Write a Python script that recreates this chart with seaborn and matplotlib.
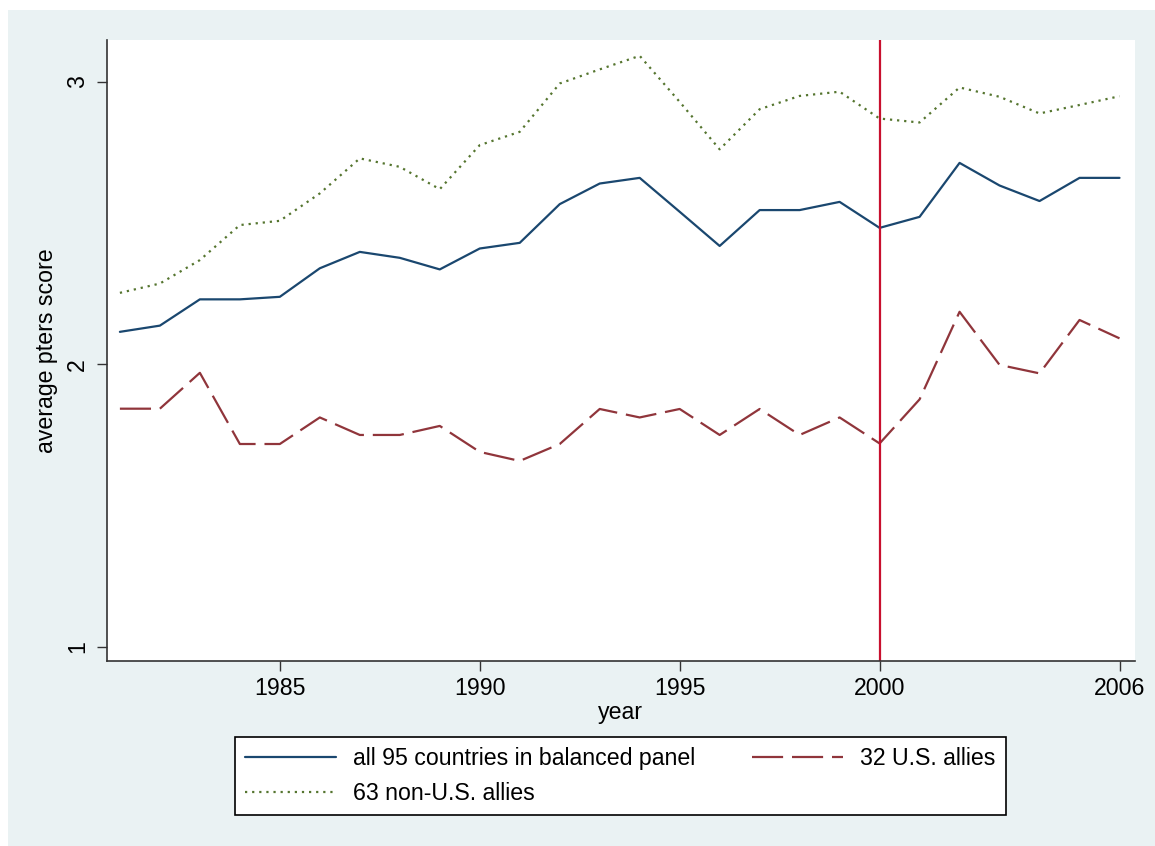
import matplotlib
matplotlib.use("Agg")
import matplotlib.pyplot as plt
import matplotlib.patches as mpatches
import seaborn as sns

years = list(range(1981, 2007))

# average pters score
all_95 = [2.115, 2.137, 2.230, 2.230, 2.239, 2.340, 2.398, 2.377, 2.336, 2.410,
          2.430, 2.567, 2.640, 2.660, 2.540, 2.419, 2.546, 2.546, 2.575, 2.483,
          2.522, 2.713, 2.633, 2.578, 2.660, 2.660]
us_allies = [1.843, 1.843, 1.970, 1.718, 1.718, 1.812, 1.750, 1.750, 1.782, 1.690,
             1.658, 1.718, 1.842, 1.812, 1.842, 1.750, 1.842, 1.750, 1.812, 1.720,
             1.876, 2.186, 1.998, 1.968, 2.157, 2.092]
non_us = [2.253, 2.286, 2.369, 2.493, 2.508, 2.605, 2.729, 2.699, 2.620, 2.776,
          2.823, 2.994, 3.044, 3.092, 2.929, 2.761, 2.903, 2.950, 2.965, 2.870,
          2.856, 2.980, 2.947, 2.888, 2.918, 2.949]

labels = ["all 95 countries in balanced panel", "32 U.S. allies", "63 non-U.S. allies"]
xticks = [1985, 1990, 1995, 2000, 2006]
yticks = [1, 2, 3]

sns.set_style("ticks")
plt.rcParams['font.family'] = ['Liberation Sans', 'DejaVu Sans']
plt.rcParams['font.size'] = 16.7
plt.rcParams['text.color'] = 'black'
plt.rcParams['axes.labelcolor'] = 'black'

W, H = 1155, 846
fig = plt.figure(figsize=(W / 100, H / 100), dpi=100, facecolor="white")
fig.patches.append(mpatches.Rectangle((8 / W, 0), 1 - 8 / W, 1 - 10 / H,
                                      transform=fig.transFigure, facecolor="#eaf2f3",
                                      edgecolor="none", zorder=-10))
ax = fig.add_axes([106.7 / W, (H - 660.7) / H, (1134.5 - 106.7) / W, (660.7 - 40) / H])
ax.set_facecolor("white")

sns.lineplot(x=years, y=all_95, ax=ax, color="#1a476f", linewidth=1.6, label=labels[0])
sns.lineplot(x=years, y=non_us, ax=ax, color="#55752f", linewidth=1.6,
             linestyle=(0, (1, 2.2)), label=labels[2])
sns.lineplot(x=years, y=us_allies, ax=ax, color="#90353b", linewidth=1.6,
             linestyle=(0, (14, 4)), label=labels[1])
ax.axvline(2000, color="#c8102e", linewidth=1.6)

ax.set_xlim(1980.67, 2006.375)
ax.set_ylim(0.951, 3.148)
ax.set_xticks(xticks)
ax.set_yticks(yticks)
ax.set_yticklabels([str(t) for t in yticks], rotation=90, va="center")
ax.tick_params(axis="both", direction="out", length=7.5, width=1, color="#333333",
               labelsize=16.7, labelcolor="black")
ax.tick_params(axis="x", pad=4)
ax.tick_params(axis="y", pad=5)
for side in ["top", "right"]:
    ax.spines[side].set_visible(False)
for side in ["left", "bottom"]:
    ax.spines[side].set_color("#333333")
    ax.spines[side].set_linewidth(1.2)
ax.set_xlabel("year", fontsize=16.7, labelpad=1, color="black")
ax.set_ylabel("average pters score", fontsize=16.7, labelpad=6, color="black")

handles, labs = ax.get_legend_handles_labels()
ax.get_legend().remove()
order = [labs.index(labels[0]), labs.index(labels[2]), labs.index(labels[1])]
leg = fig.legend([handles[i] for i in order], [labs[i] for i in order],
                 loc="upper left", ncol=2, mode="expand",
                 bbox_to_anchor=(235 / W, 1 - 816 / H, (1006 - 235) / W, (816 - 737) / H),
                 fontsize=16.7, frameon=True, fancybox=False, edgecolor="black",
                 framealpha=1, handlelength=3.9, handletextpad=0.75,
                 borderpad=0.45, labelspacing=0.5, columnspacing=1.5, borderaxespad=0,
                 labelcolor="black")
leg.get_frame().set_linewidth(1.2)

fig.savefig("out.png", dpi=100, facecolor=fig.get_facecolor())
